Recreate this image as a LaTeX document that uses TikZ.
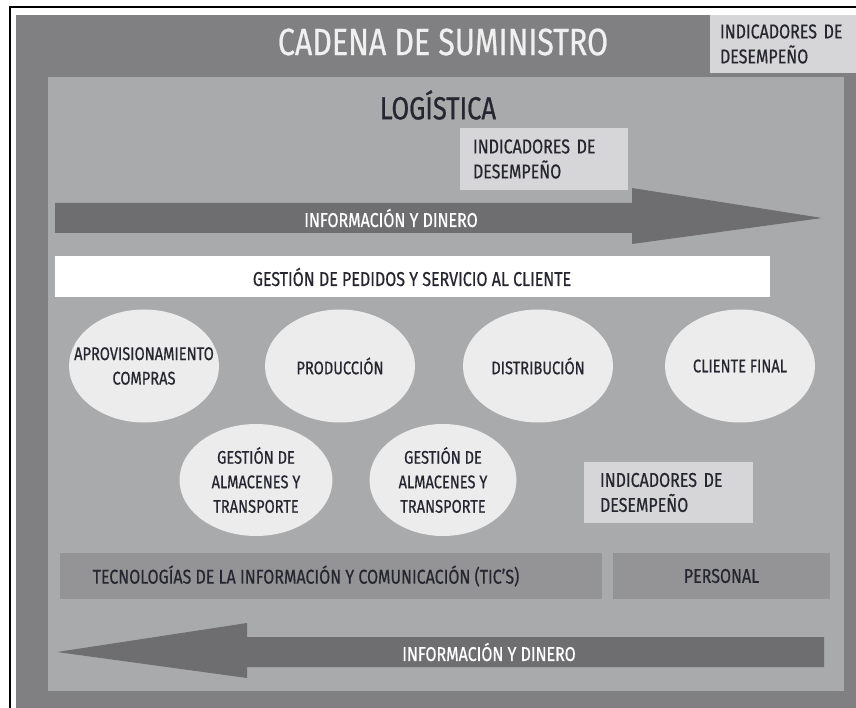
\documentclass[tikz,border=0pt]{standalone}
\usepackage{fontspec}
\setmainfont{Fira Sans}[FakeStretch=0.80, FakeBold=0.6]
\usetikzlibrary{shapes.geometric}
\definecolor{outerg}{HTML}{808082}
\definecolor{innerg}{HTML}{A9AAAC}
\definecolor{indg}{HTML}{D6D6D8}
\definecolor{arrg}{HTML}{6E6E71}
\definecolor{ellg}{HTML}{ECECEC}
\definecolor{ticg}{HTML}{949497}
\definecolor{txt}{HTML}{262630}
\tikzset{
  lbl/.style={font=\fontsize{20}{25}\selectfont, text=txt},
  indbox/.style={lbl, fill=indg, draw=none, rectangle, align=left, anchor=center},
  ell/.style={ellipse, fill=ellg, draw=none, minimum width=150pt, minimum height=113pt, inner sep=0pt},
  elltext/.style={font=\fontsize{18.3}{24.5}\selectfont, text=txt, align=center, inner sep=0pt},
  bar/.style={lbl, rectangle, fill=ticg, draw=none, minimum height=46pt, inner sep=0pt},
  bigarrow/.style={fill=arrg, draw=none},
  arrtext/.style={font=\fontsize{20}{25}\selectfont, text=white}
}
\begin{document}
\begin{tikzpicture}[x=1pt,y=-1pt]
\useasboundingbox (0,0) rectangle (856,708);
\fill[white] (0,0) rectangle (856,708);
% outer frame
\fill[outerg] (16,15) rectangle (856,708);
\draw[black, line width=1.6pt] (10,708) -- (10,7) -- (856,7);
\node[indbox, minimum width=146pt, minimum height=58pt, inner xsep=10pt, text width=126pt] (ind1) at (783,44) {INDICADORES DE\\DESEMPEÑO};
\node[font=\fontsize{38}{40}\selectfont, text=white!94!black] (title) at (443,42) {CADENA DE SUMINISTRO};
% inner logistics area
\fill[innerg] (48,77) rectangle (844,691);
\node[font=\fontsize{32}{36}\selectfont, text=txt] (logi) at (438,105) {LOGÍSTICA};
\node[indbox, minimum width=168pt, minimum height=62pt, inner xsep=13pt, text width=142pt] (ind2) at (544,159) {INDICADORES DE\\DESEMPEÑO};
% top arrow
\fill[bigarrow] (55,203) -- (632,203) -- (632,188) -- (822,218) -- (632,244) -- (632,233) -- (55,233) -- cycle;
\node[arrtext] (flow1) at (391,218) {INFORMACIÓN Y DINERO};
% orders bar
\node[lbl, rectangle, fill=white, minimum width=715pt, minimum height=41pt, inner sep=0pt] (orders) at (412.5,276.5) {};
\node[lbl] (orderst) at (412,277) {GESTIÓN DE PEDIDOS Y SERVICIO AL CLIENTE};
% ellipses row 1
\node[ell] (aprov) at (144,366) {};
\node[elltext] (aprovt) at (aprov) {APROVISIONAMIENTO\\COMPRAS};
\node[ell] (prod) at (340,366) {};
\node[elltext] (prodt) at (prod) {PRODUCCIÓN};
\node[ell] (dist) at (538,366) {};
\node[elltext] (distt) at (dist) {DISTRIBUCIÓN};
\node[ell] (cli) at (740,366) {};
\node[elltext] (clit) at (cli) {CLIENTE FINAL};
% ellipses row 2
\node[ell, minimum width=153pt, minimum height=112pt] (alm1) at (256,480) {};
\node[elltext] (alm1t) at (alm1) {GESTIÓN DE\\ALMACENES Y\\TRANSPORTE};
\node[ell, minimum width=147pt, minimum height=112pt] (alm2) at (443,480) {};
\node[elltext] (alm2t) at (alm2) {GESTIÓN DE\\ALMACENES Y\\TRANSPORTE};
\node[indbox, minimum width=169pt, minimum height=61pt, inner xsep=16pt, text width=137pt] (ind3) at (668.5,492.5) {INDICADORES DE\\DESEMPEÑO};
% bottom bars
\node[bar, minimum width=542pt] (tic) at (331,576) {};
\node[lbl] (tict) at (306,576) {TECNOLOGÍAS DE LA INFORMACIÓN Y COMUNICACIÓN (TIC’S)};
\node[bar, minimum width=217pt] (pers) at (721.5,576) {PERSONAL};
% bottom arrow
\fill[bigarrow] (824,637) -- (247,637) -- (247,623) -- (57,652) -- (247,678) -- (247,667) -- (824,667) -- cycle;
\node[arrtext] (flow2) at (489,652) {INFORMACIÓN Y DINERO};
\end{tikzpicture}
\end{document}
